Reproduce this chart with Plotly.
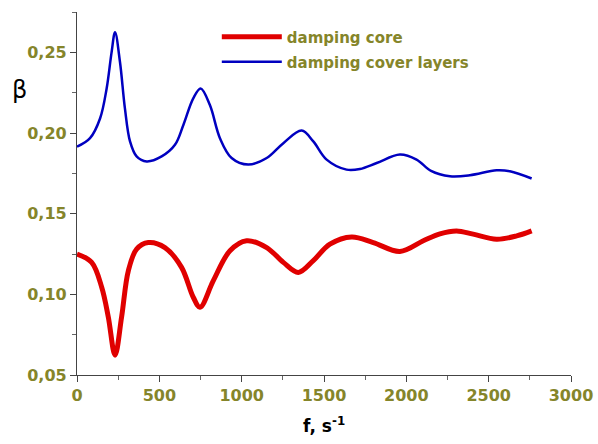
import plotly.graph_objects as go

# Frequency values (s^-1) and damping coefficient beta
f_cover = [0, 79, 140, 180, 210, 231, 261, 291, 322, 362, 423, 514, 595, 646, 706, 751, 807, 868,
           939, 1040, 1152, 1253, 1364, 1435, 1516, 1637, 1718, 1820, 1961, 2062, 2150, 2265, 2386,
           2548, 2629, 2761]
beta_cover = [0.1915, 0.1968, 0.209, 0.2276, 0.250, 0.2625, 0.244, 0.2153, 0.1948, 0.1855,
              0.1824, 0.1855, 0.1927, 0.205, 0.2215, 0.2276, 0.2173, 0.1968, 0.1845, 0.1804, 0.1845,
              0.1937, 0.2015, 0.1948, 0.1835, 0.1773, 0.1777, 0.1814, 0.1866, 0.1835, 0.1765,
              0.1732, 0.1738, 0.1769, 0.1763, 0.1718]

f_core = [0, 89, 150, 190, 231, 271, 312, 362, 433, 534, 635, 706, 747, 828, 929, 1030, 1152,
          1253, 1344, 1435, 1536, 1668, 1799, 1961, 2103, 2204, 2305, 2406, 2548, 2670, 2761]
beta_core = [0.125, 0.1198, 0.1044, 0.086, 0.0623, 0.086, 0.1147, 0.128, 0.1321, 0.129,
             0.1167, 0.0982, 0.092, 0.1085, 0.127, 0.1332, 0.129, 0.1198, 0.1136, 0.1209, 0.1311,
             0.1356, 0.1321, 0.1266, 0.1332, 0.1375, 0.1393, 0.1373, 0.1342, 0.1362, 0.1393]

series_names = ["damping core", "damping cover layers"]

OLIVE = "#85852a"
FONT = "DejaVu Sans, Arial, sans-serif"

fig = go.Figure()
fig.add_trace(go.Scatter(x=f_core, y=beta_core, mode="lines", name="<b>" + series_names[0] + "</b>",
                         legend="legend",
                         line=dict(color="#e00000", width=5, shape="spline", smoothing=1.0)))
fig.add_trace(go.Scatter(x=f_cover, y=beta_cover, mode="lines", name="<b>" + series_names[1] + "</b>",
                         legend="legend2",
                         line=dict(color="#0000c0", width=2.5, shape="spline", smoothing=1.0)))

leg_common = dict(x=0.283, xanchor="left", yanchor="middle", bgcolor="rgba(0,0,0,0)",
                  itemwidth=60, font=dict(size=15, color=OLIVE, family=FONT))

fig.update_layout(
    width=598, height=444,
    margin=dict(l=77, r=27, t=12, b=69),
    paper_bgcolor="white", plot_bgcolor="white",
    separators=",.",
    font=dict(family=FONT),
    showlegend=True,
    legend=dict(y=(375 - 37) / 363, **leg_common),
    legend2=dict(y=(375 - 62) / 363, **leg_common),
    xaxis=dict(range=[0, 3000], dtick=500, tick0=0, showgrid=False, zeroline=False,
               automargin=False,
               showline=True, linecolor="#444", linewidth=1.2,
               ticks="outside", ticklen=6, tickcolor="#444",
               minor=dict(dtick=250, ticks="outside", ticklen=4, tickcolor="#666"),
               tickfont=dict(size=16, color=OLIVE, family=FONT),
               tickprefix="<b>", ticksuffix="</b>"),
    yaxis=dict(range=[0.05, 0.275], dtick=0.05, tick0=0.05, showgrid=False, zeroline=False,
               automargin=False,
               showline=True, linecolor="#444", linewidth=1.2,
               ticks="outside", ticklen=6, tickcolor="#444", tickformat=".2f",
               minor=dict(dtick=0.025, ticks="outside", ticklen=4, tickcolor="#666"),
               tickfont=dict(size=16, color=OLIVE, family=FONT),
               tickprefix="<b>", ticksuffix="</b>"),
    annotations=[
        dict(text="β", xref="paper", yref="paper", x=-0.135, y=0.83, showarrow=False,
             font=dict(size=24, color="black", family=FONT)),
        dict(text="<b>f, s<sup>-1</sup></b>", xref="paper", yref="paper", x=0.5,
             y=-(425 - 375) / 363, yanchor="middle", showarrow=False,
             font=dict(size=17, color="black", family=FONT)),
    ],
)

fig.write_html("out.html")
